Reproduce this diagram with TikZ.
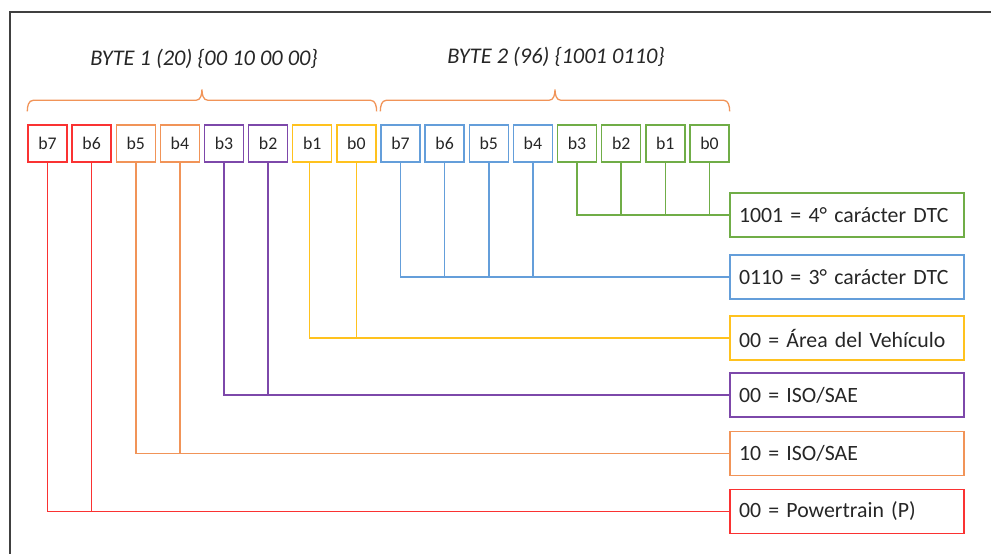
\documentclass[tikz,border=0pt]{standalone}
\usepackage{fontspec}
\setmainfont{Carlito}
\usepackage{xcolor}
\usepackage{tikz}
\usetikzlibrary{positioning, calc}
\definecolor{rojo}{RGB}{250, 50, 50}
\definecolor{naranja}{RGB}{241, 148, 88}
\definecolor{morado}{RGB}{125, 72, 170}
\definecolor{amarillo}{RGB}{255, 194, 30}
\definecolor{azul}{RGB}{100, 158, 218}
\definecolor{verde}{RGB}{112, 173, 71}
\definecolor{marco}{RGB}{64, 64, 64}
\definecolor{texto}{RGB}{38, 38, 38}
\tikzset{
    bitbox/.style={draw=#1, line width=1.4pt, minimum width=39pt, minimum height=37pt,
          inner sep=0pt, text=texto, font=\fontsize{17.8}{20}\selectfont},
    codebox/.style={draw=#1, line width=1.4pt, minimum height=44pt, text width=216pt,
          inner xsep=9pt, inner ysep=0pt, align=left, text=texto,
          font=\fontsize{21.8}{26}\selectfont},
    wire/.style={draw=#1, line width=1.5pt},
    brace/.style={draw=naranja, line width=1.3pt},
    title/.style={text=texto, font=\fontsize{22.4}{26}\selectfont\itshape}
}

\begin{document}
\begin{tikzpicture}[x=1pt, y=-1pt]
    \useasboundingbox (0,0) rectangle (991,554);
    \draw[marco, line width=1.8pt] (10,554) |- (991,12);

    \foreach \b/\col [count=\i from 0] in {7/rojo,6/rojo,5/naranja,4/naranja,3/morado,2/morado,1/amarillo,0/amarillo}
        \node[bitbox=\col] (A\b) at ({47.5+44.13*\i},143.5) {b\b};
    \foreach \b/\col [count=\i from 8] in {7/azul,6/azul,5/azul,4/azul,3/verde,2/verde,1/verde,0/verde}
        \node[bitbox=\col] (B\b) at ({47.5+44.13*\i},143.5) {b\b};

    \coordinate (m1) at ($(A7.north west)!0.5!(A0.north east)$);
    \coordinate (m2) at ($(B7.north west)!0.5!(B0.north east)$);
    \draw[brace] ([yshift=13pt]A7.north west) to[out=90, in=180] ([xshift=6pt, yshift=24pt]A7.north west)
        -- ([xshift=-6pt, yshift=24pt]m1) to[out=0, in=-90] ([yshift=35pt]m1)
        to[out=-90, in=180] ([xshift=6pt, yshift=24pt]m1)
        -- ([xshift=-6pt, yshift=24pt]A0.north east) to[out=0, in=90] ([yshift=13pt]A0.north east);
    \draw[brace] ([yshift=13pt]B7.north west) to[out=90, in=180] ([xshift=6pt, yshift=24pt]B7.north west)
        -- ([xshift=-6pt, yshift=24pt]m2) to[out=0, in=-90] ([yshift=35pt]m2)
        to[out=-90, in=180] ([xshift=6pt, yshift=24pt]m2)
        -- ([xshift=-6pt, yshift=24pt]B0.north east) to[out=0, in=90] ([yshift=13pt]B0.north east);

    \node[title] (byte1) at ([xshift=2pt, yshift=65pt]m1) {BYTE 1 (20) \{00 10 00 00\}};
    \node[title] (byte2) at ([xshift=1pt, yshift=67pt]m2) {BYTE 2 (96) \{1001 0110\}};

    \node[codebox=verde] (dtc4) at (847,215) {1001 = 4° carácter DTC};
    \node[codebox=azul] (dtc3) at (847,277) {0110 = 3° carácter DTC};
    \node[codebox=amarillo] (area) at (847,338) {00 = Área del Vehículo};
    \node[codebox=morado] (iso2) at (847,395) {00 = ISO/SAE};
    \node[codebox=naranja] (iso1) at (847,453.5) {10 = ISO/SAE};
    \node[codebox=rojo] (ptrain) at (847,511.5) {00 = Powertrain (P)};

    \draw[wire=verde] (B3.south) |- (dtc4.west);
    \foreach \b in {2,1,0}
        \draw[wire=verde] (B\b.south) -- (B\b.south |- dtc4.west);
    \draw[wire=azul] (B7.south) |- (dtc3.west);
    \foreach \b in {6,5,4}
        \draw[wire=azul] (B\b.south) -- (B\b.south |- dtc3.west);
    \draw[wire=amarillo] ([xshift=-3pt]A1.south) |- (area.west);
    \draw[wire=amarillo] (A0.south) -- (A0.south |- area.west);
    \draw[wire=morado] (A3.south) |- (iso2.west);
    \draw[wire=morado] (A2.south) -- (A2.south |- iso2.west);
    \draw[wire=naranja] (A5.south) |- (iso1.west);
    \draw[wire=naranja] (A4.south) -- (A4.south |- iso1.west);
    \draw[wire=rojo] (A7.south) |- (ptrain.west);
    \draw[wire=rojo] (A6.south) -- (A6.south |- ptrain.west);
\end{tikzpicture}
\end{document}
